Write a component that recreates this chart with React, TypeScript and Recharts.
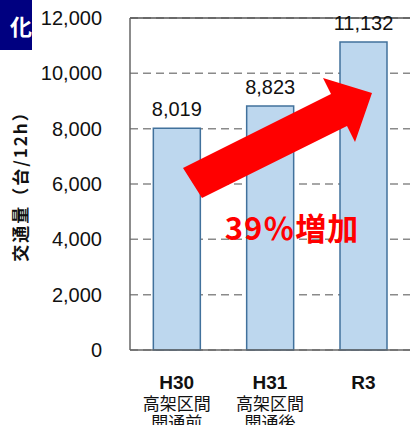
import { BarChart, Bar, XAxis, YAxis, CartesianGrid, ReferenceLine, LabelList } from 'recharts'

const categories = ['H30', 'H31', 'R3']
const subLabels = [['高架区間', '開通前'], ['高架区間', '開通後'], []]
const traffic = [8019, 8823, 11132]
const yTicks = [0, 2000, 4000, 6000, 8000, 10000, 12000]

const data = categories.map((name, i) => ({ name, value: traffic[i] }))

const FONT = '"Liberation Sans", Arial, sans-serif'
const JP = '"Noto Sans CJK JP", sans-serif'

function XTick({ x, y, payload, index }: any) {
  const sub = subLabels[index] || []
  return (
    <g transform={`translate(${x},${y})`}>
      <text x={0} y={31} textAnchor="middle" fontSize={19} fontFamily={FONT} fontWeight="bold" fill="#111">
        {payload.value}
      </text>
      {sub.map((s, i) => (
        <text key={i} x={0} y={52 + i * 19} textAnchor="middle" fontSize={17} fontFamily={JP} fill="#111">
          {s}
        </text>
      ))}
    </g>
  )
}

function YTitle({ viewBox }: any) {
  const cy = viewBox.y + viewBox.height / 2 - 2
  return (
    <text
      x={19}
      y={cy}
      transform={`rotate(-90, 19, ${cy})`}
      textAnchor="middle"
      dominantBaseline="central"
      fontSize={17}
      letterSpacing={2}
      fontWeight="bold"
      fontFamily={JP}
      fill="#111"
    >
      交通量（台/12h）
    </text>
  )
}

export default function App() {
  return (
    <div style={{ position: 'absolute', left: 0, top: 0, width: 410, height: 425, background: '#fff', overflow: 'hidden' }}>
      <BarChart width={410} height={425} data={data} margin={{ top: 18, right: 0, bottom: 0, left: 0 }} barCategoryGap="25%">
        <CartesianGrid vertical={false} stroke="#8a8a8a" strokeDasharray="8 5" strokeWidth={1.5} />
        <XAxis
          dataKey="name"
          axisLine={{ stroke: '#666', strokeWidth: 1.5 }}
          tickLine={false}
          tick={<XTick />}
          interval={0}
          height={75}
        />
        <YAxis
          width={130}
          domain={[0, 12000]}
          ticks={yTicks}
          interval={0}
          axisLine={{ stroke: '#666', strokeWidth: 1.5 }}
          tickLine={false}
          tickMargin={22}
          tickFormatter={(v: number) => v.toLocaleString('en-US')}
          tick={{ fontSize: 20, fontFamily: FONT, fill: '#111' }}
          label={<YTitle />}
        />
        <ReferenceLine y={12000} stroke="#555" strokeWidth={1.5} />
        <Bar dataKey="value" fill="#bdd7ee" stroke="#41719c" strokeWidth={1.5} isAnimationActive={false}>
          <LabelList
            dataKey="value"
            position="top"
            offset={12}
            formatter={(v: number) => v.toLocaleString('en-US')}
            style={{ fontSize: 20, fontFamily: FONT, fill: '#111' }}
          />
        </Bar>
      </BarChart>
      <svg width={410} height={425} style={{ position: 'absolute', left: 0, top: 0, pointerEvents: 'none' }}>
        <polygon points="183,168 331,94 323,78 372,93 355,142 347,126 202,198" fill="#ff0000" />
        <text x={292} y={240} textAnchor="middle" fontSize={31} fontWeight="bold" fontFamily={JP} fill="#ff0000" letterSpacing={1}>
          39％増加
        </text>
      </svg>
      <div
        style={{
          position: 'absolute',
          left: 0,
          top: 0,
          width: 32,
          height: 50,
          background: '#000080',
          color: '#fff',
          fontFamily: JP,
          fontWeight: 'bold',
          fontSize: 22,
          lineHeight: '50px',
          textAlign: 'right',
          overflow: 'hidden',
        }}
      >
        化
      </div>
    </div>
  )
}
